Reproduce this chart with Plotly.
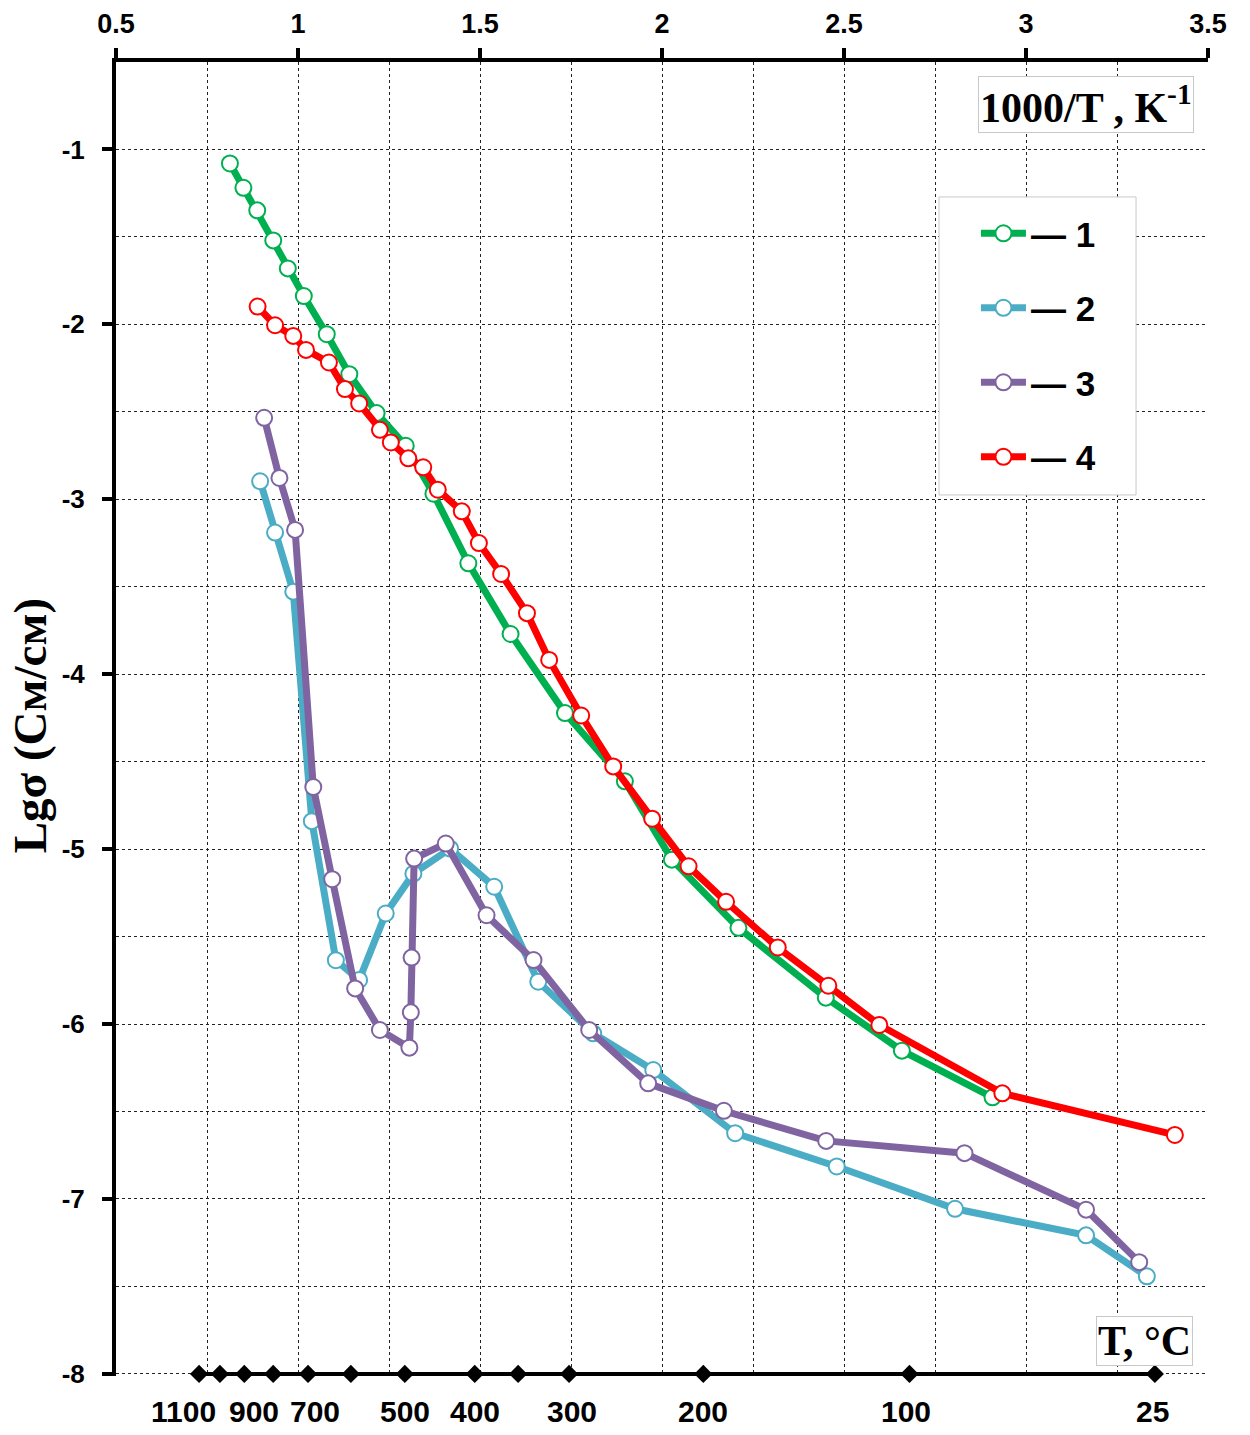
import plotly.graph_objects as go

# ---------------- data ----------------
x1 = [0.813, 0.850, 0.888, 0.932, 0.972, 1.016, 1.079, 1.141, 1.216, 1.296, 1.372,
      1.468, 1.584, 1.7335, 1.898, 2.027, 2.210, 2.450, 2.659, 2.908]
y1 = [-1.08, -1.219, -1.348, -1.52, -1.68, -1.838, -2.056, -2.285, -2.507, -2.694, -2.968,
      -3.366, -3.77, -4.222, -4.612, -5.06, -5.45, -5.849, -6.152, -6.419]

x2 = [0.896, 0.937, 0.987, 1.038, 1.104, 1.168, 1.241, 1.317, 1.418, 1.539, 1.660,
      1.811, 1.976, 2.201, 2.480, 2.805, 3.165, 3.332]
y2 = [-2.897, -3.19, -3.528, -4.84, -5.635, -5.748, -5.368, -5.14, -4.997, -5.215, -5.758,
      -6.053, -6.263, -6.624, -6.814, -7.056, -7.208, -7.442]

x3 = [0.907, 0.949, 0.992, 1.042, 1.094, 1.157, 1.225, 1.306, 1.310, 1.312, 1.319,
      1.406, 1.518, 1.647, 1.800, 1.962, 2.170, 2.451, 2.831, 3.165, 3.311]
y3 = [-2.534, -2.878, -3.175, -4.645, -5.172, -5.796, -6.034, -6.135, -5.933, -5.62, -5.054,
      -4.968, -5.378, -5.634, -6.034, -6.339, -6.496, -6.668, -6.738, -7.061, -7.361]

x4 = [0.889, 0.937, 0.987, 1.022, 1.085, 1.129, 1.168, 1.225, 1.255, 1.303, 1.344,
      1.384, 1.450, 1.497, 1.558, 1.629, 1.690, 1.778, 1.866, 1.973, 2.073, 2.176,
      2.318, 2.457, 2.597, 2.935, 3.409]
y4 = [-1.898, -2.005, -2.066, -2.146, -2.218, -2.37, -2.452, -2.603, -2.675, -2.766, -2.817,
      -2.945, -3.069, -3.25, -3.427, -3.651, -3.918, -4.236, -4.527, -4.826, -5.098, -5.301,
      -5.562, -5.781, -6.005, -6.396, -6.634]

series_names = ["— 1", "— 2", "— 3", "— 4"]
series_colors = ["#00B050", "#4BACC6", "#8064A2", "#FF0000"]

# y tick labels (hyphen-minus as in the reference)
y_ticks = [-8, -7, -6, -5, -4, -3, -2, -1]
y_ticktext = ["-8", "-7", "-6", "-5", "-4", "-3", "-2", "-1"]

# temperature scale (°C) shown along the bottom
t_marks = [1100, 1000, 900, 800, 700, 600, 500, 400, 350, 300, 200, 100, 25]
t_labels = [1100, 900, 700, 500, 400, 300, 200, 100, 25]
t_label_shift = {1100: -16, 900: 10, 700: 7, 300: 3, 100: -3, 25: -2}

y_title = "Lgσ (См/см)"
x_title = "1000/T , K<sup>-1</sup>"
t_title = "T, °C"


def inv_t(tc):
    return 1000.0 / (tc + 273.15)


SANS = "Liberation Sans, Arial, sans-serif"
SERIF = "Liberation Serif, Times New Roman, serif"

fig = go.Figure()

for xs, ys, nm, col in zip([x1, x2, x3, x4], [y1, y2, y3, y4], series_names, series_colors):
    fig.add_trace(go.Scatter(
        x=xs, y=ys, name=nm, mode="lines+markers", legendgroup=nm,
        line=dict(color=col, width=7),
        marker=dict(symbol="circle", size=16, color="white", line=dict(color=col, width=2)),
    ))

# bottom temperature line with diamonds
fig.add_trace(go.Scatter(
    x=[inv_t(t) for t in t_marks], y=[-8] * len(t_marks), mode="lines+markers",
    showlegend=False, cliponaxis=False, hoverinfo="skip",
    line=dict(color="black", width=4),
    marker=dict(symbol="diamond", size=14, color="black"),
))

annotations = []
for t in t_labels:
    annotations.append(dict(
        x=inv_t(t), y=-8, xref="x", yref="y", text=str(t), showarrow=False,
        xanchor="center", yanchor="middle", yshift=-38, xshift=t_label_shift.get(t, 0),
        font=dict(family=SANS, size=30, color="black", weight="bold"),
    ))

annotations.append(dict(
    x=0.8887, y=0.9673, xref="paper", yref="paper", text=f"<b>{x_title}</b>",
    showarrow=False, xanchor="center", yanchor="middle",
    font=dict(family=SERIF, size=42, color="black"),
    bgcolor="white", bordercolor="#c8c8c8", borderwidth=1, borderpad=1,
))
annotations.append(dict(
    x=0.9423, y=0.0266, xref="paper", yref="paper", text=f"<b>{t_title}</b>",
    showarrow=False, xanchor="center", yanchor="middle",
    font=dict(family=SERIF, size=42, color="black"),
    bgcolor="white", bordercolor="#c8c8c8", borderwidth=1, borderpad=1,
))
annotations.append(dict(
    x=-0.0785, y=0.4947, xref="paper", yref="paper", text=f"<b>{y_title}</b>",
    showarrow=False, xanchor="center", yanchor="middle", textangle=-90,
    font=dict(family=SERIF, size=47, color="black"),
))

# legend frame
shapes = [dict(
    type="rect", xref="paper", yref="paper",
    x0=0.7537, x1=0.9341, y0=0.6705, y1=0.8973,
    fillcolor="white", line=dict(color="#c8c8c8", width=1), layer="above",
)]

grid_kw = dict(gridcolor="#222222", gridwidth=1, griddash="dot")

fig.update_layout(
    width=1250, height=1435,
    margin=dict(l=116, r=42, t=62, b=59, autoexpand=False),
    paper_bgcolor="white", plot_bgcolor="white",
    showlegend=True,
    legend=dict(
        x=0.7875, y=0.8919, xanchor="left", yanchor="top",
        bgcolor="rgba(0,0,0,0)", borderwidth=0,
        font=dict(family=SANS, size=35, color="black", weight="bold"),
        tracegroupgap=26, itemwidth=45,
    ),
    xaxis=dict(
        range=[0.5, 3.5], side="top", tick0=0.5, dtick=0.5,
        showgrid=True, **grid_kw,
        minor=dict(dtick=0.25, showgrid=True, ticks="", **grid_kw),
        showline=True, linecolor="black", linewidth=4,
        ticks="outside", ticklen=10, tickwidth=4, tickcolor="black",
        zeroline=False, ticklabelstandoff=4, automargin=False,
        tickfont=dict(family=SANS, size=27, color="black", weight="bold"),
    ),
    yaxis=dict(
        range=[-8.012, -0.5], tickvals=y_ticks, ticktext=y_ticktext,
        showgrid=True, **grid_kw,
        minor=dict(tickvals=[v + 0.5 for v in y_ticks[:-1]] + [-0.5], showgrid=True, ticks="", **grid_kw),
        showline=True, linecolor="black", linewidth=4,
        ticks="outside", ticklen=10, tickwidth=4, tickcolor="black",
        zeroline=False, ticklabelstandoff=12, automargin=False,
        tickfont=dict(family=SANS, size=26, color="black", weight="bold"),
    ),
    shapes=shapes,
    annotations=annotations,
)

fig.write_html("out.html")
